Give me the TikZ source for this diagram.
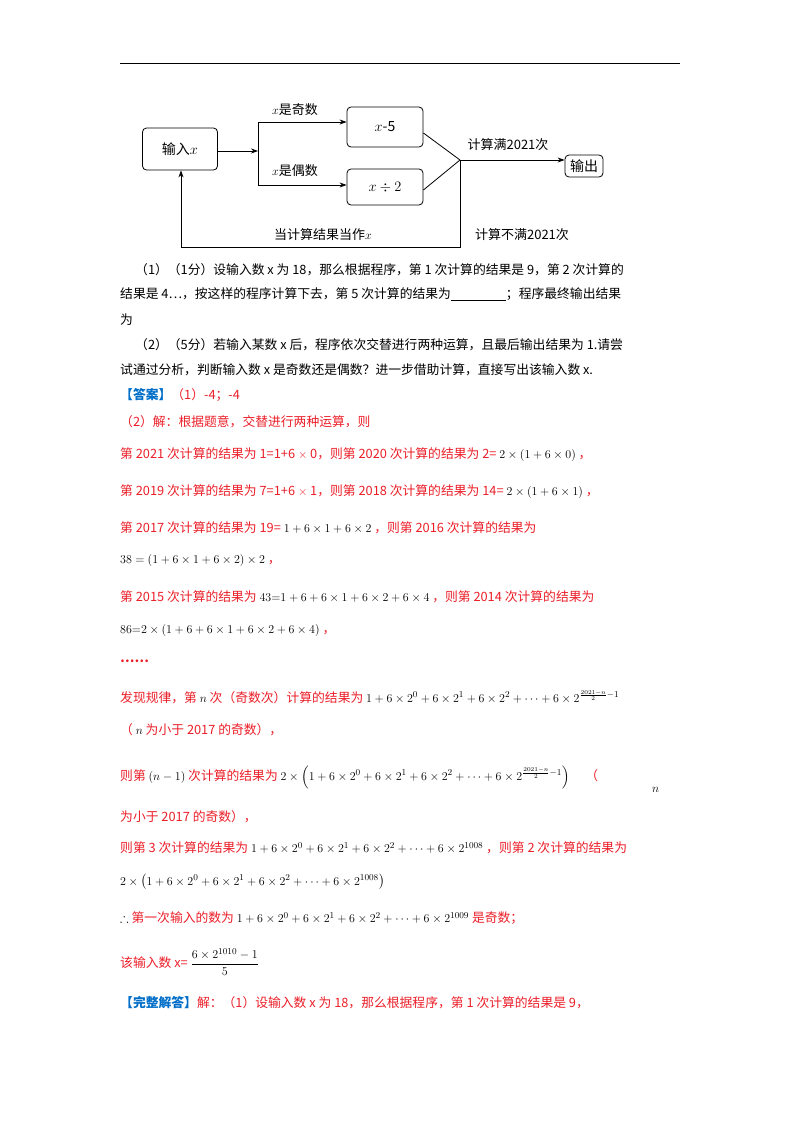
\documentclass[tikz,border=0pt]{standalone}
\usepackage{amsmath,amssymb}
\usepackage{fontspec}
\setmainfont{Noto Sans CJK SC}
\usetikzlibrary{arrows.meta}
\definecolor{ansred}{RGB}{235,30,40}
\definecolor{ansblue}{RGB}{0,110,200}
\begin{document}
\begin{tikzpicture}[x=1pt,y=-1pt,
  box/.style={draw,thick,rounded corners=4pt,inner sep=2pt,font=\fontsize{14}{16}\selectfont},
  lbl/.style={font=\fontsize{13}{15}\selectfont,inner sep=0pt},
  txt/.style={anchor=west,inner sep=0pt,font=\fontsize{12.8}{15}\selectfont},
  rtxt/.style={txt,text=ansred},
  arr/.style={-{Stealth[length=7pt,width=5pt]},thick}]
\useasboundingbox (0,0) rectangle (800,1132);
\draw[thick] (120,63) -- (680,63);
% flowchart
\node[box,minimum width=75pt,minimum height=42pt] (in) at (180,149) {输入$x$};
\node[box,minimum width=76pt,minimum height=40pt] (a) at (385,127) {$x$-5};
\node[box,minimum width=76pt,minimum height=36pt] (b) at (385,187) {$x\div 2$};
\node[box,minimum width=38pt,minimum height=22pt] (out) at (584,166) {输出};
\coordinate (br) at (258,151);
\coordinate (bt) at (258,122);
\coordinate (bb) at (258,185);
\coordinate (m) at (460,160);
\coordinate (d1) at (460,247);
\coordinate (d2) at (181,247);
\draw[arr] (in.east |- br) -- (br);
\draw[thick] (bt) -- (bb);
\draw[arr] (bt) -- (bt -| a.west);
\draw[arr] (bb) -- (bb -| b.west);
\node[lbl] at (295,110) {$x$是奇数};
\node[lbl] at (295,171) {$x$是偶数};
\draw[thick] (a.east |- 0,133) -- (m);
\draw[thick] (b.east |- 0,190) -- (m);
\draw[arr] (m) -- (m -| out.west);
\node[lbl] at (508,145) {计算满2021次};
\draw[arr] (m) -- (d1) -- (d2) -- (in.south -| d2);
\node[lbl] at (323,235) {当计算结果当作$x$};
\node[lbl] at (522,235) {计算不满2021次};
% question text
\node[txt] at (135,270) {（1）（1分）设输入数 x 为 18，那么根据程序，第 1 次计算的结果是 9，第 2 次计算的};
\node[txt] at (120,294) {结果是 4…，按这样的程序计算下去，第 5 次计算的结果为\underline{\hspace{55pt}}；程序最终输出结果};
\node[txt] at (120,320) {为};
\node[txt] at (135,345) {（2）（5分）若输入某数 x 后，程序依次交替进行两种运算，且最后输出结果为 1.请尝};
\node[txt] at (120,370) {试通过分析，判断输入数 x 是奇数还是偶数？进一步借助计算，直接写出该输入数 x.};
\node[txt] at (120,395) {\textcolor{ansblue}{\bfseries【答案】}\textcolor{ansred}{（1）-4；-4}};
\node[rtxt] at (120,422) {（2）解：根据题意，交替进行两种运算，则};
% answer
\node[rtxt] at (120,455) {第 2021 次计算的结果为 1=1+6 $\times$ 0，则第 2020 次计算的结果为 2= \textcolor{black}{$2\times\left(1+6\times0\right)$} ，};
\node[rtxt] at (120,492) {第 2019 次计算的结果为 7=1+6 $\times$ 1，则第 2018 次计算的结果为 14= \textcolor{black}{$2\times\left(1+6\times1\right)$} ，};
\node[rtxt] at (120,528) {第 2017 次计算的结果为 19= \textcolor{black}{$1+6\times1+6\times2$} ，则第 2016 次计算的结果为};
\node[txt] at (120,560) {$38=\left(1+6\times1+6\times2\right)\times2$ \textcolor{ansred}{，}};
\node[rtxt] at (120,597) {第 2015 次计算的结果为 \textcolor{black}{$43{=}1+6+6\times1+6\times2+6\times4$} ，则第 2014 次计算的结果为};
\node[txt] at (120,630) {$86{=}2\times\left(1+6+6\times1+6\times2+6\times4\right)$ \textcolor{ansred}{，}};
\node[rtxt] at (120,661) {\bfseries ……};
\node[rtxt] at (120,697) {发现规律，第 \textcolor{black}{$n$} 次（奇数次）计算的结果为 \textcolor{black}{$1+6\times2^0+6\times2^1+6\times2^2+\cdots+6\times2^{\frac{2021-n}{2}-1}$}};
\node[rtxt] at (120,730) {（ \textcolor{black}{$n$} 为小于 2017 的奇数），};
\node[rtxt] at (120,777) {则第 \textcolor{black}{$(n-1)$} 次计算的结果为 \textcolor{black}{$2\times\left(1+6\times2^0+6\times2^1+6\times2^2+\cdots+6\times2^{\frac{2021-n}{2}-1}\right)$} \quad （};
\node[txt] at (652,790) {$n$};
\node[rtxt] at (120,817) {为小于 2017 的奇数），};
\node[rtxt] at (120,848) {则第 3 次计算的结果为 \textcolor{black}{$1+6\times2^0+6\times2^1+6\times2^2+\cdots+6\times2^{1008}$} ，则第 2 次计算的结果为};
\node[txt] at (120,882) {$2\times\left(1+6\times2^0+6\times2^1+6\times2^2+\cdots+6\times2^{1008}\right)$};
\node[txt] at (120,918) {$\therefore$ \textcolor{ansred}{第一次输入的数为} $1+6\times2^0+6\times2^1+6\times2^2+\cdots+6\times2^{1009}$ \textcolor{ansred}{是奇数；}};
\node[rtxt] at (120,962) {该输入数 x= \textcolor{black}{$\dfrac{6\times2^{1010}-1}{5}$}};
\node[txt] at (120,1003) {\textcolor{ansblue}{\bfseries【完整解答】}\textcolor{ansred}{解：（1）设输入数 x 为 18，那么根据程序，第 1 次计算的结果是 9，}};
\end{tikzpicture}
\end{document}
